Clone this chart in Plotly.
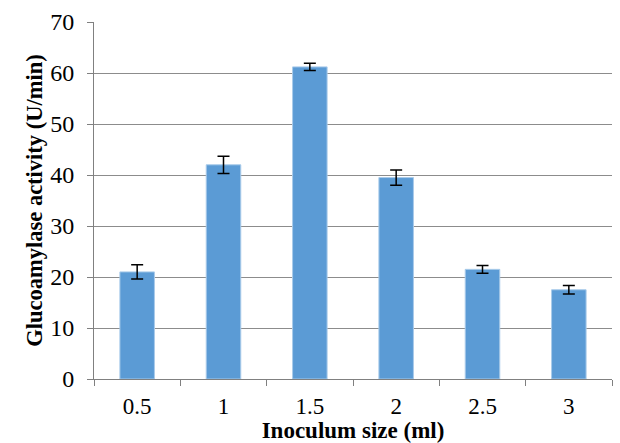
import plotly.graph_objects as go

categories = ["0.5", "1", "1.5", "2", "2.5", "3"]
activity = [21.0, 42.0, 61.2, 39.5, 21.5, 17.5]
errors = [1.4, 1.7, 0.7, 1.5, 0.75, 0.85]
y_ticks = [0, 10, 20, 30, 40, 50, 60, 70]

font_family = "Liberation Serif"

fig = go.Figure(
    go.Bar(
        x=categories,
        y=activity,
        marker=dict(color="#5B9BD5", line=dict(color="#A9CBEA", width=1)),
        error_y=dict(type="data", array=errors, color="black", thickness=1.5, width=6),
        width=0.4,
    )
)

fig.update_layout(
    width=620,
    height=443,
    margin=dict(l=94, r=8, t=22, b=64),
    paper_bgcolor="white",
    plot_bgcolor="white",
    showlegend=False,
    font=dict(family=font_family, color="black", size=23),
)

fig.update_xaxes(
    type="category",
    tickson="boundaries",
    ticks="outside",
    ticklen=6,
    tickcolor="#808080",
    showline=True,
    linecolor="#808080",
    linewidth=1,
    showgrid=False,
    automargin=False,
    ticklabelstandoff=6,
    tickfont=dict(family=font_family, size=23),
    title=dict(text="<b>Inoculum size (ml)</b>", font=dict(family=font_family, size=23), standoff=3),
)

fig.update_yaxes(
    range=[0, 70],
    tickvals=y_ticks,
    ticks="outside",
    ticklen=6,
    tickcolor="#808080",
    showline=True,
    linecolor="#808080",
    linewidth=1,
    showgrid=True,
    gridcolor="#8C8C8C",
    gridwidth=1,
    zeroline=False,
    automargin=False,
    ticklabelstandoff=8,
    tickfont=dict(family=font_family, size=24),
    title=dict(text="<b>Glucoamylase activity (U/min)</b>", font=dict(family=font_family, size=22.5), standoff=1),
)

fig.write_html("out.html")
